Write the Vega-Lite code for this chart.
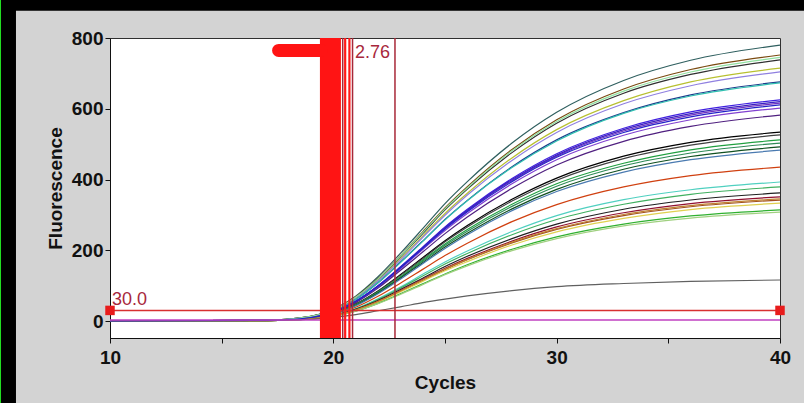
{
  "$schema": "https://vega.github.io/schema/vega-lite/v6.json",
  "width": 670,
  "height": 300,
  "autosize": {"type": "none"},
  "padding": {"left": 110, "top": 38, "right": 24, "bottom": 65},
  "background": "#d3d3d3",
  "config": {
    "view": {"fill": "white", "stroke": "#303030", "strokeWidth": 1},
    "axis": {
      "labelFont": "Liberation Sans", "labelFontWeight": "bold", "labelFontSize": 19, "labelColor": "#111111",
      "titleFont": "Liberation Sans", "titleFontWeight": "bold", "titleFontSize": 19, "titleColor": "#111111",
      "tickColor": "#111111", "domainColor": "#111111", "tickSize": 5, "grid": false, "labelFlush": false
    }
  },
  "datasets": {
    "curves": [
      {"s":"s01","c":10,"v":0},{"s":"s01","c":17,"v":2},{"s":"s01","c":19,"v":13},{"s":"s01","c":20,"v":33},{"s":"s01","c":21,"v":70},{"s":"s01","c":22,"v":125},{"s":"s01","c":23,"v":191},{"s":"s01","c":24,"v":261},{"s":"s01","c":25,"v":332},{"s":"s01","c":26,"v":394},{"s":"s01","c":28,"v":503},{"s":"s01","c":30,"v":590},{"s":"s01","c":33,"v":680},{"s":"s01","c":36,"v":737},{"s":"s01","c":40,"v":780},
      {"s":"s02","c":10,"v":0},{"s":"s02","c":17,"v":2},{"s":"s02","c":19,"v":13},{"s":"s02","c":20,"v":32},{"s":"s02","c":21,"v":68},{"s":"s02","c":22,"v":120},{"s":"s02","c":23,"v":184},{"s":"s02","c":24,"v":252},{"s":"s02","c":25,"v":320},{"s":"s02","c":26,"v":380},{"s":"s02","c":28,"v":485},{"s":"s02","c":30,"v":569},{"s":"s02","c":33,"v":656},{"s":"s02","c":36,"v":711},{"s":"s02","c":40,"v":752},
      {"s":"s03","c":10,"v":0},{"s":"s03","c":17,"v":2},{"s":"s03","c":19,"v":13},{"s":"s03","c":20,"v":31},{"s":"s03","c":21,"v":66},{"s":"s03","c":22,"v":118},{"s":"s03","c":23,"v":181},{"s":"s03","c":24,"v":247},{"s":"s03","c":25,"v":314},{"s":"s03","c":26,"v":373},{"s":"s03","c":28,"v":476},{"s":"s03","c":30,"v":559},{"s":"s03","c":33,"v":644},{"s":"s03","c":36,"v":697},{"s":"s03","c":40,"v":738},
      {"s":"s04","c":10,"v":0},{"s":"s04","c":17,"v":2},{"s":"s04","c":19,"v":12},{"s":"s04","c":20,"v":30},{"s":"s04","c":21,"v":64},{"s":"s04","c":22,"v":114},{"s":"s04","c":23,"v":175},{"s":"s04","c":24,"v":240},{"s":"s04","c":25,"v":304},{"s":"s04","c":26,"v":361},{"s":"s04","c":28,"v":461},{"s":"s04","c":30,"v":541},{"s":"s04","c":33,"v":623},{"s":"s04","c":36,"v":676},{"s":"s04","c":40,"v":715},
      {"s":"s05","c":10,"v":0},{"s":"s05","c":17,"v":2},{"s":"s05","c":19,"v":12},{"s":"s05","c":20,"v":30},{"s":"s05","c":21,"v":63},{"s":"s05","c":22,"v":113},{"s":"s05","c":23,"v":172},{"s":"s05","c":24,"v":236},{"s":"s05","c":25,"v":299},{"s":"s05","c":26,"v":356},{"s":"s05","c":28,"v":454},{"s":"s05","c":30,"v":533},{"s":"s05","c":33,"v":614},{"s":"s05","c":36,"v":665},{"s":"s05","c":40,"v":704},
      {"s":"s06","c":10,"v":0},{"s":"s06","c":17,"v":2},{"s":"s06","c":19,"v":11},{"s":"s06","c":20,"v":28},{"s":"s06","c":21,"v":61},{"s":"s06","c":22,"v":108},{"s":"s06","c":23,"v":166},{"s":"s06","c":24,"v":226},{"s":"s06","c":25,"v":287},{"s":"s06","c":26,"v":341},{"s":"s06","c":28,"v":436},{"s":"s06","c":30,"v":512},{"s":"s06","c":33,"v":589},{"s":"s06","c":36,"v":639},{"s":"s06","c":40,"v":676},
      {"s":"s07","c":10,"v":0},{"s":"s07","c":17,"v":2},{"s":"s07","c":19,"v":11},{"s":"s07","c":20,"v":28},{"s":"s07","c":21,"v":61},{"s":"s07","c":22,"v":108},{"s":"s07","c":23,"v":165},{"s":"s07","c":24,"v":225},{"s":"s07","c":25,"v":286},{"s":"s07","c":26,"v":340},{"s":"s07","c":28,"v":434},{"s":"s07","c":30,"v":509},{"s":"s07","c":33,"v":587},{"s":"s07","c":36,"v":636},{"s":"s07","c":40,"v":673},
      {"s":"s08","c":10,"v":0},{"s":"s08","c":17,"v":2},{"s":"s08","c":19,"v":11},{"s":"s08","c":20,"v":26},{"s":"s08","c":21,"v":56},{"s":"s08","c":22,"v":100},{"s":"s08","c":23,"v":153},{"s":"s08","c":24,"v":209},{"s":"s08","c":25,"v":266},{"s":"s08","c":26,"v":316},{"s":"s08","c":28,"v":403},{"s":"s08","c":30,"v":473},{"s":"s08","c":33,"v":545},{"s":"s08","c":36,"v":591},{"s":"s08","c":40,"v":625},
      {"s":"s09","c":10,"v":0},{"s":"s09","c":17,"v":2},{"s":"s09","c":19,"v":10},{"s":"s09","c":20,"v":26},{"s":"s09","c":21,"v":55},{"s":"s09","c":22,"v":99},{"s":"s09","c":23,"v":151},{"s":"s09","c":24,"v":206},{"s":"s09","c":25,"v":262},{"s":"s09","c":26,"v":311},{"s":"s09","c":28,"v":397},{"s":"s09","c":30,"v":466},{"s":"s09","c":33,"v":537},{"s":"s09","c":36,"v":582},{"s":"s09","c":40,"v":616},
      {"s":"s11","c":10,"v":0},{"s":"s11","c":17,"v":2},{"s":"s11","c":19,"v":10},{"s":"s11","c":20,"v":25},{"s":"s11","c":21,"v":54},{"s":"s11","c":22,"v":96},{"s":"s11","c":23,"v":147},{"s":"s11","c":24,"v":202},{"s":"s11","c":25,"v":256},{"s":"s11","c":26,"v":304},{"s":"s11","c":28,"v":388},{"s":"s11","c":30,"v":456},{"s":"s11","c":33,"v":525},{"s":"s11","c":36,"v":569},{"s":"s11","c":40,"v":602},
      {"s":"s12","c":10,"v":0},{"s":"s12","c":17,"v":2},{"s":"s12","c":19,"v":10},{"s":"s12","c":20,"v":24},{"s":"s12","c":21,"v":52},{"s":"s12","c":22,"v":93},{"s":"s12","c":23,"v":143},{"s":"s12","c":24,"v":195},{"s":"s12","c":25,"v":247},{"s":"s12","c":26,"v":294},{"s":"s12","c":28,"v":375},{"s":"s12","c":30,"v":441},{"s":"s12","c":33,"v":508},{"s":"s12","c":36,"v":550},{"s":"s12","c":40,"v":582},
      {"s":"s13","c":10,"v":0},{"s":"s13","c":17,"v":2},{"s":"s13","c":19,"v":9},{"s":"s13","c":20,"v":22},{"s":"s13","c":21,"v":48},{"s":"s13","c":22,"v":85},{"s":"s13","c":23,"v":131},{"s":"s13","c":24,"v":179},{"s":"s13","c":25,"v":227},{"s":"s13","c":26,"v":270},{"s":"s13","c":28,"v":344},{"s":"s13","c":30,"v":404},{"s":"s13","c":33,"v":466},{"s":"s13","c":36,"v":505},{"s":"s13","c":40,"v":534},
      {"s":"s14","c":10,"v":0},{"s":"s14","c":17,"v":2},{"s":"s14","c":19,"v":9},{"s":"s14","c":20,"v":22},{"s":"s14","c":21,"v":47},{"s":"s14","c":22,"v":84},{"s":"s14","c":23,"v":129},{"s":"s14","c":24,"v":176},{"s":"s14","c":25,"v":224},{"s":"s14","c":26,"v":266},{"s":"s14","c":28,"v":339},{"s":"s14","c":30,"v":398},{"s":"s14","c":33,"v":459},{"s":"s14","c":36,"v":497},{"s":"s14","c":40,"v":526},
      {"s":"s15","c":10,"v":0},{"s":"s15","c":17,"v":2},{"s":"s15","c":19,"v":9},{"s":"s15","c":20,"v":22},{"s":"s15","c":21,"v":46},{"s":"s15","c":22,"v":82},{"s":"s15","c":23,"v":125},{"s":"s15","c":24,"v":172},{"s":"s15","c":25,"v":218},{"s":"s15","c":26,"v":259},{"s":"s15","c":28,"v":330},{"s":"s15","c":30,"v":388},{"s":"s15","c":33,"v":446},{"s":"s15","c":36,"v":484},{"s":"s15","c":40,"v":512},
      {"s":"s16","c":10,"v":0},{"s":"s16","c":17,"v":2},{"s":"s16","c":19,"v":9},{"s":"s16","c":20,"v":21},{"s":"s16","c":21,"v":45},{"s":"s16","c":22,"v":80},{"s":"s16","c":23,"v":123},{"s":"s16","c":24,"v":169},{"s":"s16","c":25,"v":214},{"s":"s16","c":26,"v":254},{"s":"s16","c":28,"v":324},{"s":"s16","c":30,"v":381},{"s":"s16","c":33,"v":439},{"s":"s16","c":36,"v":475},{"s":"s16","c":40,"v":503},
      {"s":"s17","c":10,"v":0},{"s":"s17","c":17,"v":1},{"s":"s17","c":19,"v":8},{"s":"s17","c":20,"v":21},{"s":"s17","c":21,"v":44},{"s":"s17","c":22,"v":79},{"s":"s17","c":23,"v":121},{"s":"s17","c":24,"v":165},{"s":"s17","c":25,"v":209},{"s":"s17","c":26,"v":248},{"s":"s17","c":28,"v":317},{"s":"s17","c":30,"v":372},{"s":"s17","c":33,"v":429},{"s":"s17","c":36,"v":465},{"s":"s17","c":40,"v":492},
      {"s":"s18","c":10,"v":0},{"s":"s18","c":17,"v":1},{"s":"s18","c":19,"v":8},{"s":"s18","c":20,"v":20},{"s":"s18","c":21,"v":43},{"s":"s18","c":22,"v":77},{"s":"s18","c":23,"v":118},{"s":"s18","c":24,"v":162},{"s":"s18","c":25,"v":205},{"s":"s18","c":26,"v":244},{"s":"s18","c":28,"v":312},{"s":"s18","c":30,"v":366},{"s":"s18","c":33,"v":421},{"s":"s18","c":36,"v":456},{"s":"s18","c":40,"v":483},
      {"s":"s19","c":10,"v":0},{"s":"s19","c":17,"v":1},{"s":"s19","c":19,"v":7},{"s":"s19","c":20,"v":18},{"s":"s19","c":21,"v":39},{"s":"s19","c":22,"v":70},{"s":"s19","c":23,"v":107},{"s":"s19","c":24,"v":146},{"s":"s19","c":25,"v":185},{"s":"s19","c":26,"v":220},{"s":"s19","c":28,"v":281},{"s":"s19","c":30,"v":329},{"s":"s19","c":33,"v":379},{"s":"s19","c":36,"v":411},{"s":"s19","c":40,"v":435},
      {"s":"s20","c":10,"v":0},{"s":"s20","c":17,"v":1},{"s":"s20","c":19,"v":7},{"s":"s20","c":20,"v":17},{"s":"s20","c":21,"v":35},{"s":"s20","c":22,"v":63},{"s":"s20","c":23,"v":96},{"s":"s20","c":24,"v":132},{"s":"s20","c":25,"v":167},{"s":"s20","c":26,"v":198},{"s":"s20","c":28,"v":253},{"s":"s20","c":30,"v":298},{"s":"s20","c":33,"v":343},{"s":"s20","c":36,"v":371},{"s":"s20","c":40,"v":393},
      {"s":"s21","c":10,"v":0},{"s":"s21","c":17,"v":1},{"s":"s21","c":19,"v":6},{"s":"s21","c":20,"v":16},{"s":"s21","c":21,"v":34},{"s":"s21","c":22,"v":61},{"s":"s21","c":23,"v":93},{"s":"s21","c":24,"v":127},{"s":"s21","c":25,"v":161},{"s":"s21","c":26,"v":191},{"s":"s21","c":28,"v":244},{"s":"s21","c":30,"v":287},{"s":"s21","c":33,"v":330},{"s":"s21","c":36,"v":358},{"s":"s21","c":40,"v":379},
      {"s":"s22","c":10,"v":0},{"s":"s22","c":17,"v":1},{"s":"s22","c":19,"v":6},{"s":"s22","c":20,"v":15},{"s":"s22","c":21,"v":33},{"s":"s22","c":22,"v":58},{"s":"s22","c":23,"v":89},{"s":"s22","c":24,"v":121},{"s":"s22","c":25,"v":154},{"s":"s22","c":26,"v":183},{"s":"s22","c":28,"v":233},{"s":"s22","c":30,"v":274},{"s":"s22","c":33,"v":316},{"s":"s22","c":36,"v":342},{"s":"s22","c":40,"v":362},
      {"s":"s23","c":10,"v":0},{"s":"s23","c":17,"v":1},{"s":"s23","c":19,"v":6},{"s":"s23","c":20,"v":15},{"s":"s23","c":21,"v":32},{"s":"s23","c":22,"v":56},{"s":"s23","c":23,"v":86},{"s":"s23","c":24,"v":118},{"s":"s23","c":25,"v":149},{"s":"s23","c":26,"v":177},{"s":"s23","c":28,"v":226},{"s":"s23","c":30,"v":266},{"s":"s23","c":33,"v":306},{"s":"s23","c":36,"v":332},{"s":"s23","c":40,"v":351},
      {"s":"s24","c":10,"v":0},{"s":"s24","c":17,"v":1},{"s":"s24","c":19,"v":6},{"s":"s24","c":20,"v":14},{"s":"s24","c":21,"v":31},{"s":"s24","c":22,"v":55},{"s":"s24","c":23,"v":84},{"s":"s24","c":24,"v":115},{"s":"s24","c":25,"v":145},{"s":"s24","c":26,"v":173},{"s":"s24","c":28,"v":221},{"s":"s24","c":30,"v":259},{"s":"s24","c":33,"v":298},{"s":"s24","c":36,"v":323},{"s":"s24","c":40,"v":342},
      {"s":"s25","c":10,"v":0},{"s":"s25","c":17,"v":1},{"s":"s25","c":19,"v":6},{"s":"s25","c":20,"v":14},{"s":"s25","c":21,"v":30},{"s":"s25","c":22,"v":53},{"s":"s25","c":23,"v":82},{"s":"s25","c":24,"v":112},{"s":"s25","c":25,"v":142},{"s":"s25","c":26,"v":168},{"s":"s25","c":28,"v":215},{"s":"s25","c":30,"v":252},{"s":"s25","c":33,"v":290},{"s":"s25","c":36,"v":315},{"s":"s25","c":40,"v":333},
      {"s":"s26","c":10,"v":0},{"s":"s26","c":17,"v":1},{"s":"s26","c":19,"v":5},{"s":"s26","c":20,"v":13},{"s":"s26","c":21,"v":28},{"s":"s26","c":22,"v":50},{"s":"s26","c":23,"v":77},{"s":"s26","c":24,"v":105},{"s":"s26","c":25,"v":133},{"s":"s26","c":26,"v":159},{"s":"s26","c":28,"v":203},{"s":"s26","c":30,"v":238},{"s":"s26","c":33,"v":274},{"s":"s26","c":36,"v":297},{"s":"s26","c":40,"v":314},
      {"s":"s27","c":10,"v":0},{"s":"s27","c":17,"v":1},{"s":"s27","c":19,"v":5},{"s":"s27","c":20,"v":13},{"s":"s27","c":21,"v":28},{"s":"s27","c":22,"v":49},{"s":"s27","c":23,"v":75},{"s":"s27","c":24,"v":103},{"s":"s27","c":25,"v":131},{"s":"s27","c":26,"v":156},{"s":"s27","c":28,"v":199},{"s":"s27","c":30,"v":233},{"s":"s27","c":33,"v":269},{"s":"s27","c":36,"v":291},{"s":"s27","c":40,"v":308},
      {"s":"s28","c":10,"v":0},{"s":"s28","c":17,"v":2},{"s":"s28","c":19,"v":11},{"s":"s28","c":20,"v":26},{"s":"s28","c":21,"v":56},{"s":"s28","c":22,"v":99},{"s":"s28","c":23,"v":152},{"s":"s28","c":24,"v":208},{"s":"s28","c":25,"v":264},{"s":"s28","c":26,"v":313},{"s":"s28","c":28,"v":400},{"s":"s28","c":30,"v":469},{"s":"s28","c":33,"v":541},{"s":"s28","c":36,"v":586},{"s":"s28","c":40,"v":620},
      {"s":"s29","c":10,"v":0},{"s":"s29","c":17,"v":2},{"s":"s29","c":19,"v":13},{"s":"s29","c":20,"v":31},{"s":"s29","c":21,"v":67},{"s":"s29","c":22,"v":119},{"s":"s29","c":23,"v":183},{"s":"s29","c":24,"v":250},{"s":"s29","c":25,"v":317},{"s":"s29","c":26,"v":376},{"s":"s29","c":28,"v":481},{"s":"s29","c":30,"v":564},{"s":"s29","c":33,"v":650},{"s":"s29","c":36,"v":704},{"s":"s29","c":40,"v":745},
      {"s":"s30","c":10,"v":0},{"s":"s30","c":17,"v":1},{"s":"s30","c":19,"v":6},{"s":"s30","c":20,"v":14},{"s":"s30","c":21,"v":31},{"s":"s30","c":22,"v":55},{"s":"s30","c":23,"v":85},{"s":"s30","c":24,"v":116},{"s":"s30","c":25,"v":147},{"s":"s30","c":26,"v":174},{"s":"s30","c":28,"v":223},{"s":"s30","c":30,"v":261},{"s":"s30","c":33,"v":301},{"s":"s30","c":36,"v":326},{"s":"s30","c":40,"v":345},
      {"s":"g","c":10,"v":0},{"s":"g","c":17,"v":1},{"s":"g","c":19,"v":5},{"s":"g","c":20,"v":10},{"s":"g","c":21,"v":18},{"s":"g","c":22,"v":29},{"s":"g","c":23,"v":40},{"s":"g","c":24,"v":52},{"s":"g","c":25,"v":62},{"s":"g","c":26,"v":71},{"s":"g","c":28,"v":86},{"s":"g","c":30,"v":97},{"s":"g","c":33,"v":106},{"s":"g","c":36,"v":112},{"s":"g","c":40,"v":116},
      {"s":"s10","c":10,"v":0},{"s":"s10","c":17,"v":2},{"s":"s10","c":19,"v":10},{"s":"s10","c":20,"v":26},{"s":"s10","c":21,"v":55},{"s":"s10","c":22,"v":98},{"s":"s10","c":23,"v":150},{"s":"s10","c":24,"v":205},{"s":"s10","c":25,"v":260},{"s":"s10","c":26,"v":309},{"s":"s10","c":28,"v":394},{"s":"s10","c":30,"v":463},{"s":"s10","c":33,"v":533},{"s":"s10","c":36,"v":577},{"s":"s10","c":40,"v":611}
    ]
  },
  "layer": [
    {
      "data": {"values": [{"a": 4.8, "a2": 41.4, "b": 877, "b2": 920}, {"a": 4.8, "a2": 5.79, "b": -240, "b2": 920}]},
      "mark": {"type": "rect", "color": "#000000", "clip": false},
      "encoding": {
        "x": {"field": "a", "type": "quantitative"}, "x2": {"field": "a2"},
        "y": {"field": "b", "type": "quantitative"}, "y2": {"field": "b2"}
      }
    },
    {
      "data": {"values": [{"a": 4.8, "a2": 5.12, "b": -240, "b2": 920}]},
      "mark": {"type": "rect", "color": "#22dd22", "clip": false},
      "encoding": {
        "x": {"field": "a", "type": "quantitative"}, "x2": {"field": "a2"},
        "y": {"field": "b", "type": "quantitative"}, "y2": {"field": "b2"}
      }
    },
    {
      "data": {"name": "curves"},
      "mark": {"type": "line", "interpolate": "monotone", "strokeWidth": 1.2},
      "encoding": {
        "x": {"field": "c", "type": "quantitative",
          "scale": {"domain": [10, 40], "nice": false, "zero": false},
          "axis": {"title": "Cycles", "values": [10, 15, 20, 25, 30, 35, 40],
            "labelExpr": "datum.value % 10 == 0 ? datum.label : ''", "labelPadding": 5, "titlePadding": 6}},
        "y": {"field": "v", "type": "quantitative",
          "scale": {"domain": [-48, 800], "nice": false, "zero": false},
          "axis": {"title": "Fluorescence", "values": [0, 100, 200, 300, 400, 500, 600, 700, 800],
            "labelExpr": "datum.value % 200 == 0 ? datum.label : ''", "labelPadding": 2, "titlePadding": 6}},
        "color": {"field": "s", "type": "nominal", "legend": null,
          "scale": {
            "domain": ["s01","s02","s03","s04","s05","s06","s07","s08","s09","s10","s11","s12","s13","s14","s15","s16","s17","s18","s19","s20","s21","s22","s23","s24","s25","s26","s27","s28","s29","s30","g"],
            "range": ["#2f5f5f","#7a4a10","#303030","#b8c030","#9080e0","#1e3c8c","#30c0b0","#4020e0","#7030c0","#2424c8","#8040d0","#502080","#000000","#404040","#20a040","#2e8b57","#105020","#4a7ab0","#d04010","#50d0c0","#40b060","#202020","#901030","#a05020","#e0d050","#30b030","#a0d080","#3a20c0","#90e0a0","#c08030","#606060"]}}
      }
    },
    {
      "data": {"values": [{"v": 3}]},
      "mark": {"type": "rule", "color": "#c040c0", "strokeWidth": 1.5},
      "encoding": {"y": {"field": "v", "type": "quantitative"}}
    },
    {
      "data": {"values": [{"v": 30}]},
      "mark": {"type": "rule", "color": "#d83030", "strokeWidth": 1.5},
      "encoding": {"y": {"field": "v", "type": "quantitative"}}
    },
    {
      "data": {"values": [{"c": 19.4, "c2": 20.34}]},
      "mark": {"type": "rect", "color": "#ff1414"},
      "encoding": {"x": {"field": "c", "type": "quantitative"}, "x2": {"field": "c2"}}
    },
    {
      "data": {"values": [{"c": 20.42}, {"c": 20.86}, {"c": 22.76}]},
      "mark": {"type": "rule", "color": "#a82838", "strokeWidth": 1.5},
      "encoding": {"x": {"field": "c", "type": "quantitative"}}
    },
    {
      "data": {"values": [{"c": 20.53}, {"c": 20.72}]},
      "mark": {"type": "rule", "color": "#ff1a1a", "strokeWidth": 2.2},
      "encoding": {"x": {"field": "c", "type": "quantitative"}}
    },
    {
      "data": {"values": [{"c": 17.55, "c2": 19.45, "v": 765}]},
      "mark": {"type": "rule", "color": "#ff1414", "strokeWidth": 13, "strokeCap": "round"},
      "encoding": {"x": {"field": "c", "type": "quantitative"}, "x2": {"field": "c2"}, "y": {"field": "v", "type": "quantitative"}}
    },
    {
      "data": {"values": [{"c": 10, "v": 30}, {"c": 40, "v": 30}]},
      "mark": {"type": "point", "shape": "square", "filled": true, "size": 90, "color": "#e81c1c", "opacity": 1, "clip": false},
      "encoding": {"x": {"field": "c", "type": "quantitative"}, "y": {"field": "v", "type": "quantitative"}}
    },
    {
      "data": {"values": [{"c": 20.97, "v": 744, "t": "2.76"}, {"c": 10.09, "v": 45, "t": "30.0"}]},
      "mark": {"type": "text", "align": "left", "baseline": "alphabetic", "font": "Liberation Sans", "fontSize": 18, "color": "#a8283c"},
      "encoding": {"x": {"field": "c", "type": "quantitative"}, "y": {"field": "v", "type": "quantitative"}, "text": {"field": "t"}}
    }
  ]
}
